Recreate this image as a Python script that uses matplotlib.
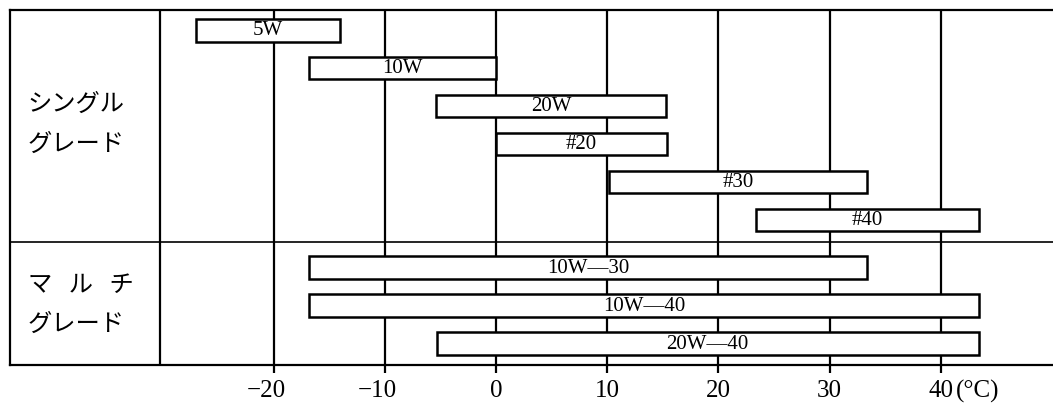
import matplotlib
matplotlib.use('Agg')
import matplotlib.pyplot as plt

# Oil grades and the temperature range (°C) each one covers
GRADES = ['5W', '10W', '20W', '#20', '#30', '#40', '10W—30', '10W—40', '20W—40']
LOW_C = [-27, -16.8, -5.4, 0, 10.2, 23.4, -16.8, -16.8, -5.3]
HIGH_C = [-14, 0, 15.3, 15.4, 33.4, 43.4, 33.4, 43.4, 43.4]
GROUP = [0, 0, 0, 0, 0, 0, 1, 1, 1]  # 0 = single grade, 1 = multi grade

GROUP_LABELS = [['シングル', 'グレード'], ['マ   ル   チ', 'グレード']]

TICKS = [-20, -10, 0, 10, 20, 30, 40]
TICK_LABELS = ['−20', '−10', '0', '10', '20', '30', '40']
UNIT = '(°C)'

SERIF = 'Liberation Serif'
JP = ['Noto Sans CJK JP', 'DejaVu Sans']
LW = 1.6


def main():
    fig = plt.figure(figsize=(10.53, 4.05), dpi=100)
    ax = fig.add_axes([10 / 1053, 1 - 365 / 405, 1 - 10 / 1053, 355 / 405])

    # y position of each row: one gap between the two groups
    ys = [i + 0.25 * g for i, g in enumerate(GROUP)]
    sep_y = 5.58

    ax.set_xlim(-43.7, 50.1)
    ax.set_ylim(8.82, -0.53)

    # frame
    for side in ['top', 'left', 'bottom']:
        ax.spines[side].set_linewidth(LW)
    ax.spines['right'].set_visible(False)

    # grid lines and dividers
    for t in TICKS:
        ax.axvline(t, color='black', lw=LW, zorder=1)
    ax.axvline(-30.25, color='black', lw=LW, zorder=1)
    ax.axhline(sep_y, color='black', lw=1.2, zorder=1)

    # bars
    widths = [h - l for l, h in zip(LOW_C, HIGH_C)]
    ax.barh(ys, widths, left=LOW_C, height=0.6, facecolor='white',
            edgecolor='black', linewidth=1.8, zorder=3)
    for y, l, h, name in zip(ys, LOW_C, HIGH_C, GRADES):
        ax.text((l + h) / 2, y + 0.02, name, ha='center', va='center',
                fontsize=15, family=SERIF, zorder=4)

    # group labels in the left column
    centers = [2.5, 7.25]
    for (line1, line2), c in zip(GROUP_LABELS, centers):
        ax.text(-42.1, c - 0.55, line1, ha='left', va='center',
                fontsize=17.5, family=JP)
        ax.text(-42.1, c + 0.5, line2, ha='left', va='center',
                fontsize=17.5, family=JP)

    # x axis: digits centred on the tick, minus sign hanging left
    ax.set_yticks([])
    ax.set_xticks(TICKS)
    ax.set_xticklabels([])
    ax.tick_params(axis='x', direction='out', length=6, width=LW)
    half = 9
    for t, lab in zip(TICKS, TICK_LABELS):
        if t < 0:
            ha, dx = 'right', half
        else:
            ha, dx = 'center', 0
        ax.annotate(lab, xy=(t, 0), xycoords=('data', 'axes fraction'),
                    xytext=(dx, -19), textcoords='offset points',
                    ha=ha, va='center', fontsize=18, family=SERIF)
    ax.annotate(UNIT, xy=(TICKS[-1], 0), xycoords=('data', 'axes fraction'),
                xytext=(half + 2, -19), textcoords='offset points',
                ha='left', va='center', fontsize=18, family=SERIF)

    fig.savefig('out.png', dpi=100, facecolor='white')
    plt.close(fig)


if __name__ == '__main__':
    main()
